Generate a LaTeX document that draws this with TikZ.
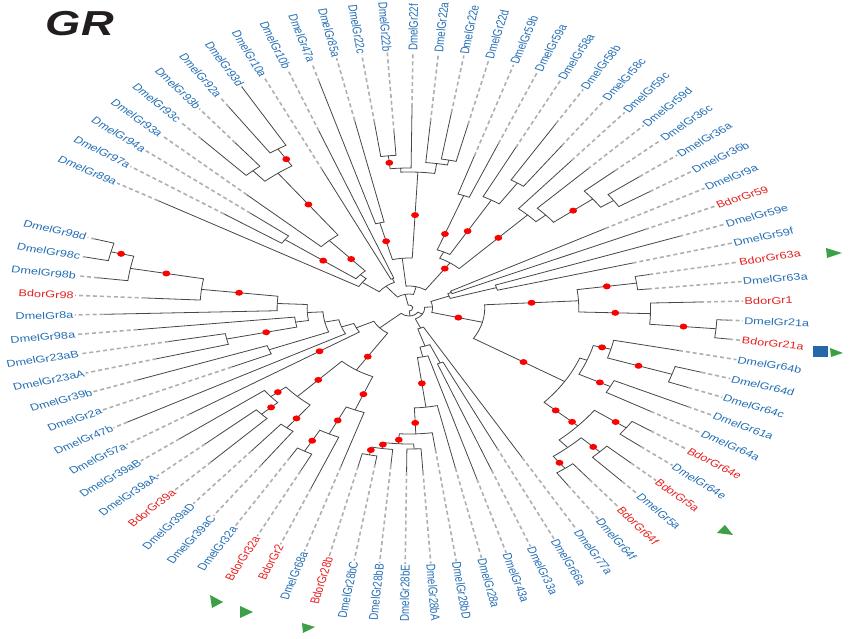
\documentclass[tikz,border=0pt]{standalone}
\usepackage{fontspec}
\setmainfont{Liberation Sans}
\usetikzlibrary{calc}

\definecolor{dblue}{RGB}{35,110,180}
\definecolor{bred}{RGB}{232,30,30}
\definecolor{tgreen}{RGB}{60,160,70}
\definecolor{sqblue}{RGB}{35,105,170}
\definecolor{brgray}{RGB}{70,70,70}
\definecolor{dshgray}{RGB}{175,175,175}
\definecolor{titleblack}{RGB}{35,30,30}

\tikzset{
  branch/.style={brgray,line width=0.6pt},
  tip/.style={dshgray,line width=1.2pt,dash pattern=on 3pt off 2.2pt},
  lab/.style={font=\fontsize{7.3}{8}\selectfont,inner sep=0.6pt,transform shape},
  bsdot/.style={fill=red},
  marker/.style={fill=tgreen}
}

\newcommand\rlab{256}
\newcommand\leaf[5]{%
  \pgfmathsetmacro\ang{150.8-4.39*#2}%
  \expandafter\xdef\csname a@#1\endcsname{\ang}%
  \expandafter\xdef\csname r@#1\endcsname{#3}%
  \coordinate (#1) at (\ang:#3);
  \pgfmathparse{cos(\ang)<0?1:0}%
  \ifnum\pgfmathresult=1
    \node[lab,text=#4,rotate=\ang+180,anchor=east] (n#1) at (\ang:\rlab) {#5};
    \draw[tip] (#1) -- (n#1.east);
  \else
    \node[lab,text=#4,rotate=\ang,anchor=west] (n#1) at (\ang:\rlab) {#5};
    \draw[tip] (#1) -- (n#1.west);
  \fi
}
\newcommand\clade[4]{%
  \edef\ta{\csname a@#3\endcsname}\edef\tb{\csname a@#4\endcsname}%
  \edef\ra{\csname r@#3\endcsname}\edef\rb{\csname r@#4\endcsname}%
  \draw[branch] (\ta:\ra) -- (\ta:#2) arc[start angle=\ta,end angle=\tb,radius=#2] -- (\tb:\rb);
  \pgfmathsetmacro\tm{(\ta+\tb)/2}%
  \expandafter\xdef\csname a@#1\endcsname{\tm}%
  \expandafter\xdef\csname r@#1\endcsname{#2}%
  \coordinate (#1) at (\tm:#2);
}
\newcommand\bdot[2]{%
  \edef\dang{\csname a@#1\endcsname}%
  \fill[bsdot] (\dang:#2) circle[radius=3];
}

\begin{document}
\begin{tikzpicture}[x=0.75pt,y=0.75pt]
\useasboundingbox (0,0) rectangle (851,639);

\begin{scope}[shift={(409,331)},xscale=1.306]
\node[transform shape,text=titleblack,font=\fontsize{26}{28}\selectfont\bfseries\itshape] (title) at (-252,284) {GR};

\foreach \k/\i/\r/\c/\t in {
  d89a/0/220/dblue/DmelGr89a, d97a/1/170/dblue/DmelGr97a, d94a/2/154/dblue/DmelGr94a,
  d93a/3/168/dblue/DmelGr93a, d93c/4/232/dblue/DmelGr93c, d93b/5/212/dblue/DmelGr93b,
  d92a/6/244/dblue/DmelGr92a, d93d/7/255/dblue/DmelGr93d, d10a/8/153/dblue/DmelGr10a,
  d10b/9/190/dblue/DmelGr10b, d47a/10/236/dblue/DmelGr47a, d85a/11/192/dblue/DmelGr85a,
  d22c/12/187/dblue/DmelGr22c, d22b/13/176/dblue/DmelGr22b, d22f/14/201/dblue/DmelGr22f,
  d22a/15/187/dblue/DmelGr22a, d22e/16/198/dblue/DmelGr22e, d22d/17/189/dblue/DmelGr22d,
  d59b/18/160/dblue/DmelGr59b, d59a/19/178/dblue/DmelGr59a, d58a/20/180/dblue/DmelGr58a,
  d58b/21/216/dblue/DmelGr58b, d58c/22/200/dblue/DmelGr58c, d59c/23/193/dblue/DmelGr59c,
  d59d/24/195/dblue/DmelGr59d, d36c/25/209/dblue/DmelGr36c, d36a/26/220/dblue/DmelGr36a,
  d36b/27/218/dblue/DmelGr36b, d9a/28/170/dblue/DmelGr9a, b59/29/197/bred/BdorGr59,
  d59e/30/219/dblue/DmelGr59e, d59f/31/177/dblue/DmelGr59f, b63a/32/187/bred/BdorGr63a,
  d63a/33/184/dblue/DmelGr63a, b1/34/223/bred/BdorGr1, d21a/35/245/dblue/DmelGr21a,
  b21a/36/247/bred/BdorGr21a, d64b/37/211/dblue/DmelGr64b, d64d/38/233/dblue/DmelGr64d,
  d64c/39/228/dblue/DmelGr64c, d61a/40/235/dblue/DmelGr61a, d64a/41/212/dblue/DmelGr64a,
  b64e/42/222/bred/BdorGr64e, d64e/43/225/dblue/DmelGr64e, b5a/44/230/bred/BdorGr5a,
  d5a/45/238/dblue/DmelGr5a, b64f/46/220/bred/BdorGr64f, d64f/47/215/dblue/DmelGr64f,
  d77a/48/173/dblue/DmelGr77a, d66a/49/155/dblue/DmelGr66a, d33a/50/174/dblue/DmelGr33a,
  d43a/51/179/dblue/DmelGr43a, d28a/52/164/dblue/DmelGr28a, d28bD/53/143/dblue/DmelGr28bD,
  d28bA/54/164/dblue/DmelGr28bA, d28bE/55/164/dblue/DmelGr28bE, d28bB/56/158/dblue/DmelGr28bB,
  d28bC/57/158/dblue/DmelGr28bC, b28b/58/163/bred/BdorGr28b, d68a/59/167/dblue/DmelGr68a,
  b2/60/195/bred/BdorGr2, b32a/61/183/bred/BdorGr32a, d32a/62/175/dblue/DmelGr32a,
  d39aC/63/193/dblue/DmelGr39aC, d39aD/64/187/dblue/DmelGr39aD, b39a/65/216/bred/BdorGr39a,
  d39aA/66/207/dblue/DmelGr39aA, d39aB/67/219/dblue/DmelGr39aB, d57a/68/198/dblue/DmelGr57a,
  d47b/69/244/dblue/DmelGr47b, d2a/70/148/dblue/DmelGr2a, d39b/71/220/dblue/DmelGr39b,
  d23aA/72/200/dblue/DmelGr23aA, d23aB/73/187/dblue/DmelGr23aB, d98a/74/209/dblue/DmelGr98a,
  d8a/75/234/dblue/DmelGr8a, b98/76/202/bred/BdorGr98, d98b/77/240/dblue/DmelGr98b,
  d98c/78/252/dblue/DmelGr98c, d98d/79/250/dblue/DmelGr98d}
  {\leaf{\k}{\i}{\r}{\c}{\t}}

\clade{U1}{117}{d97a}{d94a}
\clade{U3}{182}{d93c}{d93b}
\clade{U4}{188}{d92a}{d93d}
\clade{U5}{168}{U3}{U4}
\clade{U6}{91}{d93a}{U5}
\clade{U2}{50}{U1}{U6}
\clade{U7}{44}{d89a}{U2}
\clade{W1}{32}{d10a}{d10b}
\clade{U8}{88}{d47a}{d85a}
\clade{T1}{153}{d22c}{d22b}
\clade{T2}{140}{T1}{d22f}
\clade{T3}{151}{d22e}{d22d}
\clade{T4}{146}{d22a}{T3}
\clade{T5}{136}{T2}{T4}
\clade{T6}{50}{U8}{T5}
\clade{S1}{120}{d59b}{d59a}
\clade{S2a}{150}{d58b}{d58c}
\clade{S2}{125}{d58a}{S2a}
\clade{S12}{62}{S1}{S2}
\clade{A1}{190}{d36a}{d36b}
\clade{A2}{178}{d36c}{A1}
\clade{S3a}{140}{d59d}{A2}
\clade{S3b}{130}{d59c}{S3a}
\clade{S}{55}{S12}{S3b}
\clade{K1}{28}{U7}{W1}
\clade{K2}{22}{T6}{S}
\clade{K3}{14}{K1}{K2}

\clade{G1}{36}{d9a}{b59}
\clade{G2a}{70}{d59e}{d59f}
\clade{G2}{33}{G1}{G2a}
\clade{Rp}{176}{b63a}{d63a}
\clade{Rq}{236}{d21a}{b21a}
\clade{Rr}{185}{b1}{Rq}
\clade{R1}{130}{Rp}{Rr}
\clade{P1a}{212}{d64d}{d64c}
\clade{P2}{160}{d64b}{P1a}
\clade{P61}{173}{d61a}{d64a}
\clade{P3}{146}{P2}{P61}
\clade{E1}{205}{b64e}{d64e}
\clade{E5}{205}{b5a}{d5a}
\clade{E6}{200}{b64f}{d64f}
\clade{E2}{185}{E5}{E6}
\clade{E0}{175}{E1}{E2}
\clade{P5}{140}{P3}{E0}
\clade{R2}{58}{R1}{P5}
\clade{R3}{18}{G2}{R2}

\clade{Q1}{150}{d28bC}{b28b}
\clade{Q2}{142}{d28bB}{Q1}
\clade{Q0}{141}{d28bA}{d28bE}
\clade{Q3}{136}{Q0}{Q2}
\clade{Q4}{126}{d28bD}{Q3}
\clade{Q5}{100}{d28a}{Q4}
\clade{Q6}{50}{d43a}{Q5}
\clade{Q7}{60}{d66a}{d33a}
\clade{Q8}{40}{Q7}{Q6}
\clade{B1}{22}{d77a}{Q8}
\clade{K4}{12}{R3}{B1}

\clade{Lp}{164}{b32a}{d32a}
\clade{Lq}{140}{b2}{Lp}
\clade{Lr}{110}{d68a}{Lq}
\clade{L2a}{152}{d39aC}{d39aD}
\clade{L2c}{155}{b39a}{d39aA}
\clade{L2b}{138}{L2c}{d39aB}
\clade{L2}{123}{L2a}{L2b}
\clade{L0}{74}{Lr}{L2}
\clade{LLa}{115}{d2a}{d39b}
\clade{LL1}{143}{d23aA}{d23aB}
\clade{LL2}{88}{LL1}{d98a}
\clade{La}{235}{d98c}{d98d}
\clade{Lb}{217}{d98b}{La}
\clade{Lc}{160}{b98}{Lb}
\clade{Ld}{101}{d8a}{Lc}
\clade{LL4}{78}{LL2}{Ld}
\clade{LLb}{66}{LLa}{LL4}
\clade{LLc}{55}{d47b}{LLb}
\clade{LLd}{45}{d57a}{LLc}
\clade{K5}{30}{L0}{LLd}
\clade{K6}{8}{K4}{K5}
\clade{K7}{3}{K3}{K6}

\bdot{U1}{81} \bdot{U4}{176} \bdot{U5}{129} \bdot{U6}{66} \bdot{U8}{69}
\bdot{T1}{146} \bdot{T5}{93} \bdot{S1}{79} \bdot{S2}{89} \bdot{S}{48}
\bdot{S3b}{98} \bdot{A2}{159}
\bdot{Rp}{153} \bdot{Rr}{158} \bdot{Rq}{211} \bdot{R1}{94} \bdot{R2}{39}
\bdot{P5}{103} \bdot{P2}{153} \bdot{P1a}{185} \bdot{P61}{164}
\bdot{E0}{152} \bdot{E0}{169} \bdot{E1}{195} \bdot{E5}{198} \bdot{E6}{193}
\bdot{Q5}{76} \bdot{Q4}{115} \bdot{Q3}{132} \bdot{Q2}{138} \bdot{Q1}{145}
\bdot{L0}{58} \bdot{Lr}{93} \bdot{Lq}{125} \bdot{Lp}{152} \bdot{L2}{100}
\bdot{L2a}{140} \bdot{L2c}{145} \bdot{L2b}{131} \bdot{d57a}{81}
\bdot{LL1}{112} \bdot{La}{227} \bdot{Lb}{189} \bdot{Lc}{131}
\end{scope}

\fill[marker] (826,391) -- (842,386) -- (827,381) -- cycle;
\fill[sqblue] (813,282) rectangle (828,293);
\fill[marker] (830,291) -- (843,286) -- (831,282) -- cycle;
\fill[marker] (717,106) -- (725,114) -- (733,104) -- cycle;
\fill[marker] (210,44) -- (223,37) -- (212,31) -- cycle;
\fill[marker] (240,33) -- (253,27) -- (240,21) -- cycle;
\fill[marker] (302,16) -- (315,12) -- (303,6) -- cycle;
\end{tikzpicture}
\end{document}
